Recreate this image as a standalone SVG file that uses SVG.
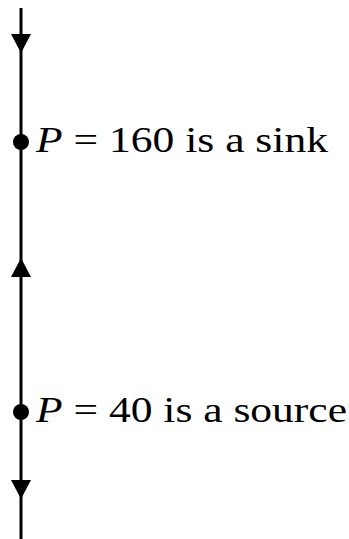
<svg xmlns="http://www.w3.org/2000/svg" width="349" height="539" viewBox="0 0 349 539">
<style>
.ln{stroke:#000;stroke-width:3;fill:none}
.ah{fill:#000}
.lbl{font-family:"Liberation Serif","Times New Roman",serif;font-size:35px;fill:#000}
.it{font-style:italic}
</style>
<rect width="349" height="539" fill="#fff"/>
<g id="connectors">
<line class="ln" x1="21" y1="8" x2="21" y2="539"/>
<polygon class="ah" points="11,34 31,34 21,53"/>
<polygon class="ah" points="11,277 31,277 21,258"/>
<polygon class="ah" points="11,480 31,480 21,499"/>
</g>
<g id="sink">
<circle cx="21" cy="142" r="8"/>
<text class="lbl" x="36" y="152" textLength="292" lengthAdjust="spacingAndGlyphs"><tspan class="it">P</tspan> = 160 is a sink</text>
</g>
<g id="source">
<circle cx="21" cy="412" r="8"/>
<text class="lbl" x="36" y="422" textLength="311" lengthAdjust="spacingAndGlyphs"><tspan class="it">P</tspan> = 40 is a source</text>
</g>
</svg>
